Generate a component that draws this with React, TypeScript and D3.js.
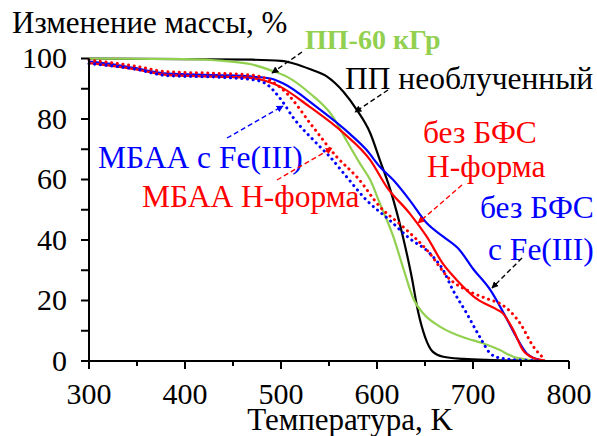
import React from 'react';
import * as d3 from 'd3';

const W = 597;
const H = 436;

const xTicks = [300, 400, 500, 600, 700, 800];
const xMinor = [350, 450, 550, 650, 750];
const yTicks = [0, 20, 40, 60, 80, 100];
const yMinor = [10, 30, 50, 70, 90];

// ПП необлученный (black)
const ppT = [300, 400, 470, 500, 515, 530, 548, 565, 579, 593, 603, 614, 627, 636, 643, 650, 658, 669, 690, 720, 750];
const ppM = [100, 99.8, 99.6, 99.2, 98.2, 96.5, 94, 89, 83, 75.3, 66.4, 56.5, 41.1, 28, 16, 8, 3.1, 1.4, 0.7, 0.3, 0.1];

// ПП-60 кГр (green)
const pp60T = [300, 400, 440, 470, 490, 506, 530, 554, 568, 582, 593, 603, 617, 628, 638, 648, 666, 693, 711, 728, 742, 756, 770];
const pp60M = [100, 99.8, 99.2, 98, 96, 94, 88.5, 80.8, 73, 65.4, 59.8, 52.1, 41.1, 30, 20.5, 15.8, 11.3, 7.5, 5.8, 3.6, 1.4, 0.5, 0.2];

// без БФС с Fe(III) (blue solid)
const feT = [300, 320, 348, 382, 434, 470, 490, 502, 537, 572, 589, 603, 617, 634, 652, 669, 686, 700, 718, 732, 745, 756, 763, 772];
const feM = [99, 98.3, 96.8, 95, 94.5, 94, 93.3, 91.8, 84, 75, 69.8, 64.2, 59.8, 53.2, 45.5, 41.1, 36.7, 30.5, 23.5, 15.8, 8, 2.5, 1, 0.2];

// без БФС Н-форма (red solid)
const hT = [300, 348, 382, 434, 470, 485, 499, 530, 565, 593, 610, 634, 652, 669, 683, 704, 725, 731, 742, 752, 763, 775];
const hM = [98.5, 96.5, 94.5, 94, 93.5, 92.5, 90.7, 84, 75.4, 66.4, 57.6, 48.8, 41, 32, 26.8, 20.5, 17, 15.8, 10.2, 3.6, 1, 0.2];

// МБАА с Fe(III) (blue dotted)
const mbFeT = [300, 348, 382, 434, 470, 483, 501, 512, 537, 551, 568, 589, 613, 634, 655, 669, 679, 693, 707, 718, 728, 750, 770];
const mbFeM = [98.3, 96.5, 94.3, 93.8, 93, 91.9, 86, 80.8, 72, 67.5, 61, 53.2, 46.6, 40.5, 35.6, 30, 23.5, 16, 8, 2.5, 1, 0.3, 0.1];

// МБАА Н-форма (red dotted)
const mbHT = [300, 348, 382, 434, 470, 490, 506, 533, 558, 580, 603, 627, 652, 676, 697, 718, 728, 749, 763, 775];
const mbHM = [99.5, 97.5, 95.6, 95.1, 94.5, 92.5, 88.5, 77.5, 67.5, 60.5, 51, 44.4, 36.7, 27, 22.9, 20.2, 19, 12.5, 4.7, 0.5];

const FONT = "'Liberation Serif'";
const GREEN = '#92D050';

const series = [
  { t: ppT, m: ppM, color: '#000000', dotted: false },
  { t: pp60T, m: pp60M, color: GREEN, dotted: false },
  { t: feT, m: feM, color: '#0000FF', dotted: false },
  { t: hT, m: hM, color: '#FF0000', dotted: false },
  { t: mbFeT, m: mbFeM, color: '#0000FF', dotted: true },
  { t: mbHT, m: mbHM, color: '#FF0000', dotted: true },
];

const T = ({ children, size = 31.5, bold = false, ...rest }) => (
  <text {...rest} fontSize={size} fontWeight={bold ? 'bold' : 'normal'} style={{ fontFamily: FONT }}>{children}</text>
);

const Arrow = ({ x1, y1, x2, y2, color, id }) => (
  <line x1={x1} y1={y1} x2={x2} y2={y2} stroke={color} strokeWidth={1.4}
    strokeDasharray="5 3" markerEnd={`url(#${id})`} />
);

export default function App() {
  const x = d3.scaleLinear().domain([300, 800]).range([89, 569]);
  const y = d3.scaleLinear().domain([0, 100]).range([361, 58.5]);

  const line = d3.line<[number, number]>()
    .x(d => x(d[0]))
    .y(d => y(d[1]))
    .curve(d3.curveMonotoneX);

  return (
    <svg width={W} height={H} style={{ position: 'absolute', left: 0, top: 0 }}>
      <defs>
        {[['ah-black', '#000'], ['ah-red', '#FF0000'], ['ah-blue', '#0000FF']].map(([id, c]) => (
          <marker key={id} id={id} viewBox="0 0 10 10" refX="9" refY="5" markerWidth="7" markerHeight="7"
            markerUnits="userSpaceOnUse" orient="auto">
            <path d="M0,0 L10,5 L0,10 z" fill={c} />
          </marker>
        ))}
      </defs>

      {/* curves */}
      {series.map((s, i) => (
        <path key={i} d={line(s.t.map((t, j) => [t, s.m[j]]) as [number, number][]) || ''}
          fill="none" stroke={s.color}
          strokeWidth={s.dotted ? 3 : 2.2}
          strokeDasharray={s.dotted ? '0.1 5.6' : undefined}
          strokeLinecap={s.dotted ? 'round' : 'butt'} />
      ))}

      {/* axes */}
      <g stroke="#000" strokeWidth={2}>
        <line x1={x(300)} y1={y(100)} x2={x(300)} y2={y(0)} />
        <line x1={x(300)} y1={y(0)} x2={x(800)} y2={y(0)} />
        {yTicks.concat(yMinor).map(v => (
          <line key={'y' + v} x1={x(300) - 8} x2={x(300)} y1={y(v)} y2={y(v)} />
        ))}
        {xTicks.map(v => (
          <line key={'x' + v} x1={x(v)} x2={x(v)} y1={y(0)} y2={y(0) + 8} />
        ))}
        {xMinor.map(v => (
          <line key={'xm' + v} x1={x(v)} x2={x(v)} y1={y(0)} y2={y(0) + 5} />
        ))}
      </g>
      {yTicks.map(v => (
        <T key={'yl' + v} size={30} x={x(300) - 22} y={y(v)} dy="0.33em" textAnchor="end" fill="#000">{v}</T>
      ))}
      {xTicks.map(v => (
        <T key={'xl' + v} size={30} x={x(v)} y={404} textAnchor="middle" fill="#000">{v}</T>
      ))}
      <T x={12} y={33} size={31} fill="#000">Изменение массы, %</T>
      <T x={350} y={430} size={31} textAnchor="middle" fill="#000">Температура, K</T>

      {/* annotations */}
      <T x={305} y={49} size={28} bold fill={GREEN}>ПП-60 кГр</T>
      <T x={345} y={89} fill="#000">ПП необлученный</T>
      <T x={423} y={143} fill="#FF0000">без БФС</T>
      <T x={427} y={177} fill="#FF0000">Н-форма</T>
      <T x={480} y={218} fill="#0000FF">без БФС</T>
      <T x={488} y={260} fill="#0000FF">с Fe(III)</T>
      <T x={98} y={168} fill="#0000FF">МБАА с Fe(III)</T>
      <T x={142} y={207} fill="#FF0000">МБАА Н-форма</T>

      <Arrow x1={302} y1={52} x2={272} y2={73} color="#000" id="ah-black" />
      <Arrow x1={388} y1={90} x2={355} y2={112} color="#000" id="ah-black" />
      <Arrow x1={462} y1={185} x2={418} y2={223} color="#FF0000" id="ah-red" />
      <Arrow x1={522} y1={258} x2={492} y2={288} color="#000" id="ah-black" />
      <Arrow x1={227} y1={138} x2={283} y2={106} color="#0000FF" id="ah-blue" />
      <Arrow x1={277} y1={180} x2={332} y2={148} color="#FF0000" id="ah-red" />
    </svg>
  );
}
